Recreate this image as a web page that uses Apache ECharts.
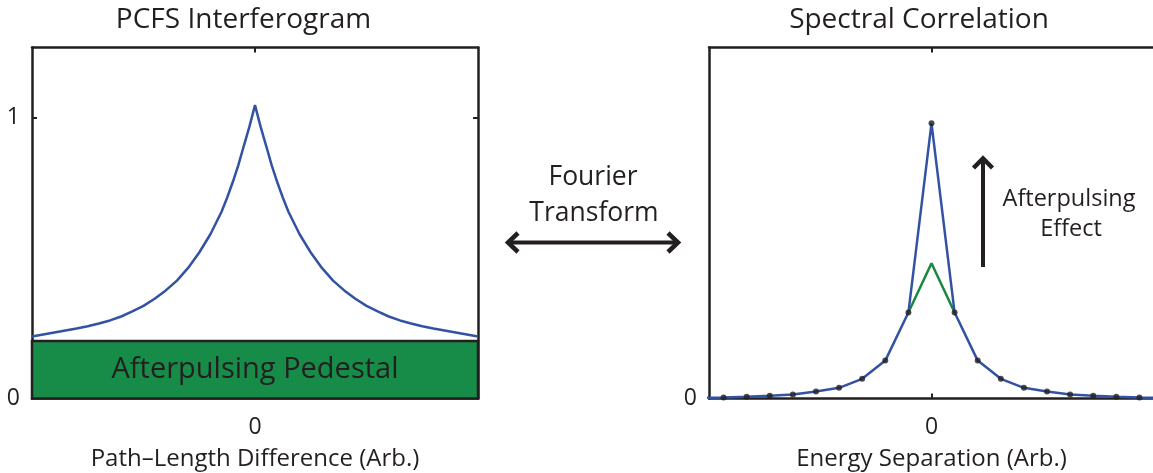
<!DOCTYPE html>
<html><head><meta charset="utf-8">
<script src="https://cdn.jsdelivr.net/npm/echarts@6/dist/echarts.min.js"></script>
<style>html,body{margin:0;padding:0;background:#fff}#c{width:1153px;height:473px}</style>
</head><body><div id="c"></div>
<script>
// ---- Data ----
const interfX = [-1,-0.95,-0.9,-0.85,-0.8,-0.75,-0.7,-0.65,-0.6,-0.55,-0.5,-0.45,-0.4,-0.35,-0.3,-0.25,-0.2,-0.15,-0.125,-0.1,-0.075,-0.05,-0.025,0,0.025,0.05,0.075,0.1,0.125,0.15,0.2,0.25,0.3,0.35,0.4,0.45,0.5,0.55,0.6,0.65,0.7,0.75,0.8,0.85,0.9,0.95,1];
const interfY = [0.221,0.228,0.235,0.242,0.249,0.257,0.267,0.278,0.292,0.31,0.33,0.355,0.385,0.42,0.465,0.52,0.585,0.665,0.715,0.77,0.83,0.90,0.968,1.045,0.968,0.90,0.83,0.77,0.715,0.665,0.585,0.52,0.465,0.42,0.385,0.355,0.33,0.31,0.292,0.278,0.267,0.257,0.249,0.242,0.235,0.228,0.221];
const pedestalLevel = 0.205;
const pedestalRange = [-1, 1];
const specX = [-10,-9,-8,-7,-6,-5,-4,-3,-2,-1,0,1,2,3,4,5,6,7,8,9,10];
const specWithAfterpulsing = [0.002,0.0036,0.006,0.0096,0.014,0.025,0.038,0.070,0.135,0.306,0.98,0.306,0.135,0.070,0.038,0.025,0.014,0.0096,0.006,0.0036,0.002];
const specGreenX = [-1,0,1];
const specWithoutAfterpulsing = [0.306,0.482,0.306];
const leftYTicks = [1];
const leftYLabels = [0,1];
const xTicks = [0];
const titles = ['PCFS Interferogram','Spectral Correlation'];
const xNames = ['Path\u2013Length Difference (Arb.)','Energy Separation (Arb.)'];

// ---- Styles ----
const INK = '#231f20';
const BLUE = '#3352a3';
const GREEN = '#178c48';
const FONT = 'Open Sans';

const pair = (xs, ys) => xs.map((x, i) => [x, ys[i]]);
const tick = (vals) => ({ show: true, inside: true, length: 5, lineStyle: { color: INK, width: 2 }, customValues: vals });
const lbl = (vals) => ({ show: true, customValues: vals, margin: 12, fontSize: 23, color: INK, fontFamily: FONT });

const axisCommon = (extra) => Object.assign({
  type: 'value',
  axisLine: { show: true, onZero: false, lineStyle: { color: INK, width: 2.5 } },
  axisTick: tick([]),
  axisLabel: { show: false },
  splitLine: { show: false }
}, extra);

const chart = echarts.init(document.getElementById('c'), null, { renderer: 'canvas' });
const option = {
  animation: false,
  backgroundColor: '#fff',
  textStyle: { fontFamily: FONT },
  title: [
    { text: titles[0], left: 238.5, top: 1, textAlign: 'center', textStyle: { fontFamily: FONT, fontSize: 28, fontWeight: 'normal', color: INK } },
    { text: titles[1], left: 914, top: 1, textAlign: 'center', textStyle: { fontFamily: FONT, fontSize: 28, fontWeight: 'normal', color: INK } }
  ],
  grid: [
    { left: 32, top: 47.5, width: 446, height: 351, outerBoundsMode: 'none', containLabel: false },
    { left: 709, top: 47.5, width: 445, height: 351, outerBoundsMode: 'none', containLabel: false }
  ],
  xAxis: [
    axisCommon({ gridIndex: 0, position: 'bottom', min: -1, max: 1,
      axisTick: tick(xTicks), axisLabel: Object.assign(lbl(xTicks), { margin: 17 }),
      name: xNames[0], nameLocation: 'middle', nameGap: 49,
      nameTextStyle: { fontSize: 24, color: INK, fontFamily: FONT } }),
    axisCommon({ gridIndex: 0, position: 'top', min: -1, max: 1, axisTick: tick(xTicks) }),
    axisCommon({ gridIndex: 1, position: 'bottom', min: -9.63, max: 9.63,
      axisTick: tick(xTicks), axisLabel: Object.assign(lbl(xTicks), { margin: 17 }),
      name: xNames[1], nameLocation: 'middle', nameGap: 49,
      nameTextStyle: { fontSize: 24, color: INK, fontFamily: FONT } }),
    axisCommon({ gridIndex: 1, position: 'top', min: -9.63, max: 9.63, axisTick: tick(xTicks) })
  ],
  yAxis: [
    axisCommon({ gridIndex: 0, position: 'left', min: 0, max: 1.25, axisTick: tick(leftYTicks), axisLabel: lbl(leftYLabels) }),
    axisCommon({ gridIndex: 0, position: 'right', min: 0, max: 1.25, axisTick: tick(leftYTicks) }),
    axisCommon({ gridIndex: 1, position: 'left', min: 0, max: 1.25, axisLabel: lbl([0]) }),
    axisCommon({ gridIndex: 1, position: 'right', min: 0, max: 1.25 })
  ],
  series: [
    {
      type: 'line', xAxisIndex: 0, yAxisIndex: 0, data: pair(interfX, interfY),
      showSymbol: false, lineStyle: { color: BLUE, width: 2.5 }, z: 3,
      markArea: {
        silent: true,
        itemStyle: { color: GREEN, opacity: 1, borderColor: INK, borderWidth: 2.5 },
        label: { show: true, position: 'inside', fontSize: 29, color: INK, fontFamily: FONT },
        data: [[{ name: 'Afterpulsing Pedestal', xAxis: pedestalRange[0], yAxis: 0 }, { xAxis: pedestalRange[1], yAxis: pedestalLevel }]]
      }
    },
    {
      type: 'line', xAxisIndex: 2, yAxisIndex: 2, data: pair(specGreenX, specWithoutAfterpulsing),
      showSymbol: false, lineStyle: { color: '#16893f', width: 2.5 }, z: 3
    },
    {
      type: 'line', xAxisIndex: 2, yAxisIndex: 2, data: pair(specX, specWithAfterpulsing),
      showSymbol: false, clip: true, lineStyle: { color: BLUE, width: 2.5 }, z: 4
    },
    {
      type: 'scatter', xAxisIndex: 2, yAxisIndex: 2, data: pair(specX, specWithAfterpulsing),
      clip: true, symbolSize: 6, itemStyle: { color: INK }, z: 5
    }
  ],
  graphic: [
    { type: 'text', style: { text: 'Fourier', x: 593, y: 177, align: 'center', verticalAlign: 'middle', font: '26.5px "Open Sans"', fill: INK } },
    { type: 'text', style: { text: 'Transform', x: 594, y: 213, align: 'center', verticalAlign: 'middle', font: '26.5px "Open Sans"', fill: INK } },
    { type: 'line', shape: { x1: 509, y1: 242.5, x2: 677, y2: 242.5 }, style: { stroke: INK, lineWidth: 4 } },
    { type: 'polyline', shape: { points: [[518, 233], [508, 242.5], [518, 252]] }, style: { stroke: INK, lineWidth: 4.5, fill: null } },
    { type: 'polyline', shape: { points: [[668, 233], [678, 242.5], [668, 252]] }, style: { stroke: INK, lineWidth: 4.5, fill: null } },
    { type: 'line', shape: { x1: 983, y1: 267, x2: 983, y2: 160 }, style: { stroke: INK, lineWidth: 4 } },
    { type: 'polyline', shape: { points: [[973.5, 168], [983, 158.5], [992.5, 168]] }, style: { stroke: INK, lineWidth: 4.5, fill: null } },
    { type: 'text', style: { text: 'Afterpulsing', x: 1069, y: 199, align: 'center', verticalAlign: 'middle', font: '23.5px "Open Sans"', fill: INK } },
    { type: 'text', style: { text: 'Effect', x: 1071, y: 229, align: 'center', verticalAlign: 'middle', font: '23.5px "Open Sans"', fill: INK } }
  ]
};
chart.setOption(option);
</script>
</body></html>
